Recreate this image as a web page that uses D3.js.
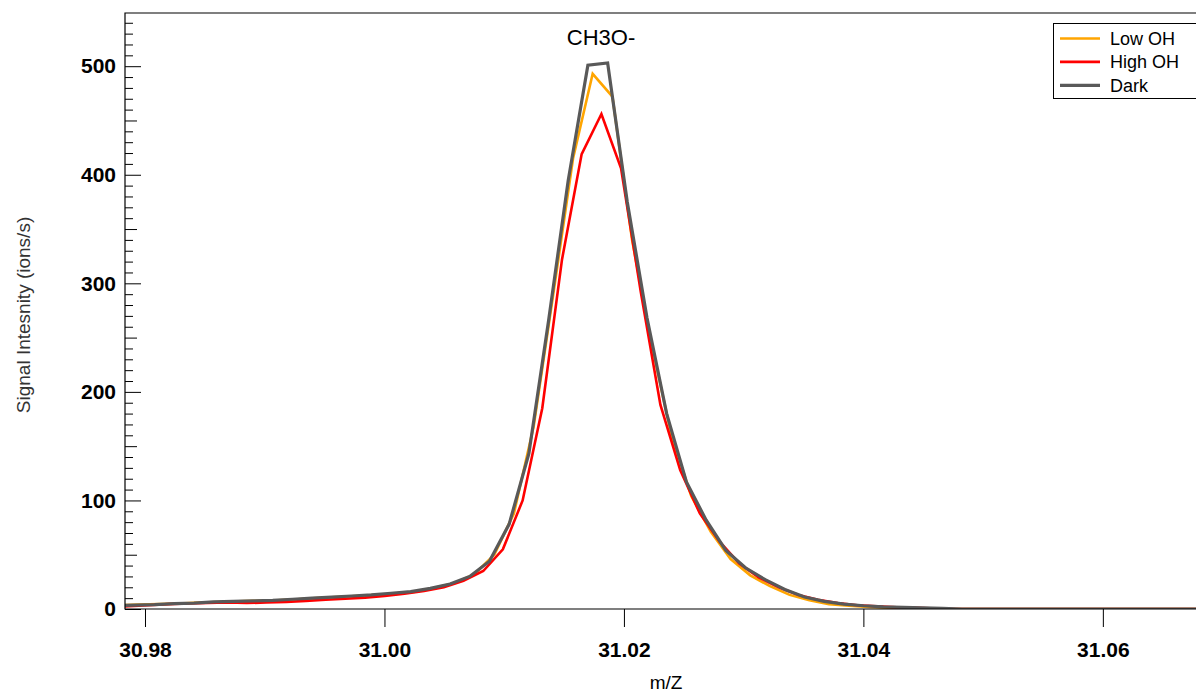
<!DOCTYPE html>
<html>
<head>
<meta charset="utf-8">
<script src="https://cdn.jsdelivr.net/npm/d3@7"></script>
<style>
	body { margin: 0; background: #fff; }
	svg { display: block; font-family: "Liberation Sans", Arial, Helvetica, sans-serif; }
</style>
</head>
<body>
<svg id="chart" width="1196" height="694"></svg>
<script>
"use strict"

//
// data (m/z, ions/s)
//
var seriesNames = ["Low OH", "High OH", "Dark"];
var seriesColors = ["#FFA500", "#FF0000", "#595959"];

var lowOhMz = [30.97791, 30.97956, 30.98120, 30.98285, 30.98449, 30.98614, 30.98778, 30.98943, 30.99107, 30.99272,
	30.99436, 30.99601, 30.99765, 30.99930, 31.00094, 31.00259, 31.00423, 31.00588, 31.00752, 31.00917,
	31.01081, 31.01246, 31.01410, 31.01575, 31.01739, 31.01904, 31.02068, 31.02233, 31.02397, 31.02562,
	31.02726, 31.02891, 31.03055, 31.03220, 31.03384, 31.03549, 31.03713, 31.03878, 31.04042, 31.04207,
	31.04371, 31.04536, 31.04700, 31.04865, 31.05029, 31.05194, 31.05358, 31.05523, 31.05687, 31.05852,
	31.06016, 31.06181, 31.06345, 31.06510, 31.06674, 31.06839];
var lowOhVal = [3.5, 4, 4.5, 5, 6, 6.5, 7, 7.5, 8, 9,
	10, 11, 12, 13, 14, 16, 19.5, 24, 32, 50,
	88, 168, 290, 415, 493, 472, 340, 243, 160, 104,
	71, 46, 31, 21, 13, 8, 4.5, 3, 2, 1.2,
	0.6, 0, 0, 0, 0, 0, 0, 0, 0, 0,
	0, 0, 0, 0, 0, 0];

var highOhMz = [30.97699, 30.97864, 30.98028, 30.98193, 30.98357, 30.98522, 30.98686, 30.98851, 30.99015, 30.99180,
	30.99344, 30.99509, 30.99673, 30.99838, 31.00002, 31.00167, 31.00331, 31.00496, 31.00660, 31.00825,
	31.00989, 31.01154, 31.01318, 31.01483, 31.01647, 31.01812, 31.01976, 31.02141, 31.02305, 31.02470,
	31.02634, 31.02799, 31.02963, 31.03128, 31.03292, 31.03457, 31.03621, 31.03786, 31.03950, 31.04115,
	31.04279, 31.04444, 31.04608, 31.04773, 31.04937, 31.05102, 31.05266, 31.05431, 31.05595, 31.05760,
	31.05924, 31.06089, 31.06253, 31.06418, 31.06582, 31.06747, 31.06911];
var highOhVal = [2, 2.5, 3.5, 4.5, 5, 5.5, 6, 5.5, 6, 6.5,
	7.5, 8.5, 9.5, 10.5, 12, 14, 16.5, 20, 26, 35,
	55, 100, 185, 322, 419, 456, 406, 292, 188, 128,
	88, 62, 42, 29, 20, 13, 8.5, 5.5, 3.5, 2.5,
	1.5, 1, 0.5, 0, 0, 0, 0, 0, 0, 0,
	0, 0, 0, 0, 0, 0, 0];

var darkMz = [30.97751, 30.97916, 30.98080, 30.98245, 30.98409, 30.98574, 30.98738, 30.98903, 30.99067, 30.99232,
	30.99396, 30.99561, 30.99725, 30.99890, 31.00054, 31.00219, 31.00383, 31.00548, 31.00712, 31.00877,
	31.01041, 31.01206, 31.01370, 31.01535, 31.01699, 31.01864, 31.02028, 31.02193, 31.02357, 31.02522,
	31.02686, 31.02851, 31.03015, 31.03180, 31.03344, 31.03509, 31.03673, 31.03838, 31.04002, 31.04167,
	31.04331, 31.04496, 31.04660, 31.04825, 31.04989, 31.05154, 31.05318, 31.05483, 31.05647, 31.05812,
	31.05976, 31.06141, 31.06305, 31.06470, 31.06634, 31.06799];
var darkVal = [3, 3.5, 4, 5, 5.5, 6.5, 7, 7.5, 8, 9,
	10, 11, 12, 13, 14.5, 16, 19, 23, 30, 44,
	78, 143, 265, 395, 501, 503, 375, 268, 180, 117,
	82, 54, 38, 27, 18, 11, 7, 4.5, 3, 2,
	1.5, 1, 0.5, 0, 0, 0, 0, 0, 0, 0,
	0, 0, 0, 0, 0, 0];

var xTicks = [30.98, 31.00, 31.02, 31.04, 31.06];
var yMajorTicks = [0, 100, 200, 300, 400, 500];
var yMidTicks = [50, 150, 250, 350, 450];
var yMinorTicks = [10, 20, 30, 40, 60, 70, 80, 90, 110, 120, 130, 140, 160, 170, 180, 190,
	210, 220, 230, 240, 260, 270, 280, 290, 310, 320, 330, 340, 360, 370, 380, 390,
	410, 420, 430, 440, 460, 470, 480, 490, 510, 520, 530, 540];

var chartTitle = "CH3O-";
var xTitle = "m/Z";
var yTitle = "Signal Intesnity (ions/s)";

//
// layout
//
var PLOT_LEFT = 125;
var PLOT_RIGHT = 1196;
var PLOT_TOP = 13;
var PLOT_BOTTOM = 609;

var svg = d3.select("#chart");

var x = d3.scaleLinear().domain([30.97833, 31.06778]).range([PLOT_LEFT, PLOT_RIGHT]);
var y = d3.scaleLinear().domain([0, 549]).range([PLOT_BOTTOM, PLOT_TOP]);

svg.append("defs").append("clipPath").attr("id", "plotClip")
	.append("rect")
	.attr("x", PLOT_LEFT)
	.attr("y", PLOT_TOP)
	.attr("width", PLOT_RIGHT - PLOT_LEFT)
	.attr("height", PLOT_BOTTOM - PLOT_TOP)
	;

//
// traces, dark drawn last so it sits on top
//
var series = [
	{ name: seriesNames[0], color: seriesColors[0], width: 2.6, pts: d3.zip(lowOhMz, lowOhVal) },
	{ name: seriesNames[1], color: seriesColors[1], width: 2.6, pts: d3.zip(highOhMz, highOhVal) },
	{ name: seriesNames[2], color: seriesColors[2], width: 3.2, pts: d3.zip(darkMz, darkVal) }
];

var line = d3.line()
	.x(function(d) { return x(d[0]); })
	.y(function(d) { return y(d[1]); });

svg.append("g").attr("clip-path", "url(#plotClip)")
	.selectAll("path")
	.data(series)
	.enter().append("path")
	.attr("d", function(s) { return line(s.pts); })
	.attr("fill", "none")
	.attr("stroke", function(s) { return s.color; })
	.attr("stroke-width", function(s) { return s.width; })
	.attr("stroke-linejoin", "miter")
	;

//
// axes
//
var yAxisG = svg.append("g").attr("transform", "translate(" + PLOT_LEFT + ",0)");
yAxisG.append("g")
	.call(d3.axisLeft(y).tickValues(yMinorTicks).tickSize(-8).tickSizeOuter(0).tickFormat(""));
yAxisG.append("g")
	.call(d3.axisLeft(y).tickValues(yMidTicks).tickSize(-12).tickSizeOuter(0).tickFormat(""));
yAxisG.append("g")
	.call(d3.axisLeft(y).tickValues(yMajorTicks).tickSize(-16).tickSizeOuter(0).tickPadding(9).tickFormat(d3.format("d")));
yAxisG.selectAll(".domain").remove();
yAxisG.selectAll("line").attr("stroke", "#000").attr("stroke-width", 1);
yAxisG.selectAll("text")
	.attr("font-size", 21)
	.attr("font-weight", "bold")
	.attr("fill", "#000")
	.attr("font-family", null);

var xAxisG = svg.append("g").attr("transform", "translate(0," + PLOT_BOTTOM + ")")
	.call(d3.axisBottom(x).tickValues(xTicks).tickSize(18).tickSizeOuter(0).tickPadding(15).tickFormat(d3.format(".2f")));
xAxisG.select(".domain").remove();
xAxisG.selectAll("line").attr("stroke", "#000").attr("stroke-width", 1);
xAxisG.selectAll("text")
	.attr("font-size", 21)
	.attr("font-weight", "bold")
	.attr("fill", "#000")
	.attr("font-family", null);

// frame: left, top, bottom
svg.append("path")
	.attr("d", "M" + PLOT_RIGHT + "," + PLOT_TOP + "H" + PLOT_LEFT + "V" + PLOT_BOTTOM + "H" + PLOT_RIGHT)
	.attr("fill", "none")
	.attr("stroke", "#000")
	.attr("stroke-width", 1.2)
	;

//
// titles
//
svg.append("text")
	.attr("x", 601)
	.attr("y", 45)
	.attr("text-anchor", "middle")
	.attr("font-size", 22)
	.text(chartTitle);

svg.append("text")
	.attr("x", 666)
	.attr("y", 689)
	.attr("text-anchor", "middle")
	.attr("font-size", 19)
	.text(xTitle);

svg.append("text")
	.attr("transform", "translate(30,315) rotate(-90)")
	.attr("text-anchor", "middle")
	.attr("font-size", 19)
	.attr("fill", "#333")
	.text(yTitle);

//
// legend
//
var legend = svg.append("g").attr("transform", "translate(1053,23)");
legend.append("rect")
	.attr("x", 0.5)
	.attr("y", 0.5)
	.attr("width", 200)
	.attr("height", 75)
	.attr("fill", "#fff")
	.attr("stroke", "#000")
	.attr("stroke-width", 1)
	;
var item = legend.selectAll("g.item")
	.data(series)
	.enter().append("g")
	.attr("class", "item")
	.attr("transform", function(s, i) { return "translate(0," + (15.5 + i * 23.4) + ")"; });
item.append("line")
	.attr("x1", 7)
	.attr("x2", 47)
	.attr("stroke", function(s) { return s.color; })
	.attr("stroke-width", function(s) { return s.width; });
item.append("text")
	.attr("x", 57)
	.attr("y", 6.5)
	.attr("font-size", 18)
	.text(function(s) { return s.name; });
</script>
</body>
</html>
